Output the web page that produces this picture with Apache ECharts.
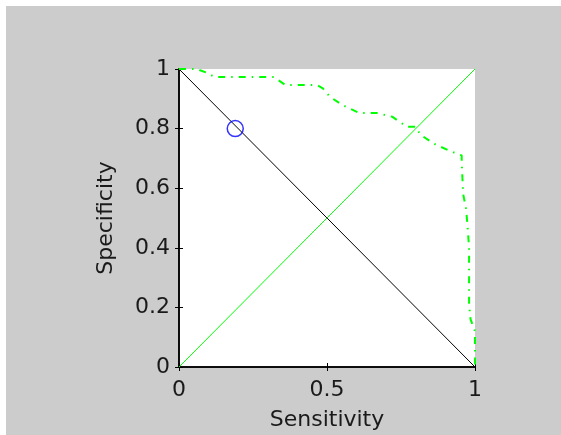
<!DOCTYPE html>
<html>
<head>
<meta charset="utf-8">
<script src="https://cdn.jsdelivr.net/npm/echarts@6/dist/echarts.min.js"></script>
<style>
html,body{margin:0;padding:0;background:#ffffff;}
#c{position:absolute;left:6px;top:6px;width:555px;height:429px;}
</style>
</head>
<body>
<div id="c"></div>
<script>
// ROC curve (sensitivity, specificity)
const rocSens = [0, 0.06, 0.095, 0.12, 0.32, 0.36, 0.466, 0.486, 0.51, 0.55, 0.61, 0.67, 0.72, 0.77, 0.80, 0.815, 0.86, 0.915, 0.955, 0.955, 0.96, 0.97, 0.975, 0.98, 0.98, 0.985, 1.0, 1.0];
const rocSpec = [1, 1, 0.987, 0.973, 0.973, 0.946, 0.946, 0.935, 0.907, 0.88, 0.852, 0.852, 0.84, 0.806, 0.806, 0.78, 0.75, 0.725, 0.71, 0.69, 0.58, 0.53, 0.47, 0.40, 0.21, 0.16, 0.12, 0];
const chanceLine = [[0, 0], [1, 1]];
const tradeLine = [[0, 1], [1, 0]];
const operatingPoint = [[0.19, 0.8]];
const xTicks = [0, 0.5, 1];
const yTicks = [0, 0.2, 0.4, 0.6, 0.8, 1];

const roc = rocSens.map((s, i) => [s, rocSpec[i]]);
const font = 'DejaVu Sans';
const txt = '#1a1a1a';
const chart = echarts.init(document.getElementById('c'));
chart.setOption({
  animation: false,
  backgroundColor: '#cccccc',
  grid: {left: 173, top: 63, width: 296, height: 298, show: true, backgroundColor: '#ffffff', borderWidth: 0,
         containLabel: false, outerBoundsMode: 'none'},
  xAxis: [{
    type: 'value', min: 0, max: 1, interval: 0.5, position: 'bottom',
    name: 'Sensitivity', nameLocation: 'middle', nameGap: 42,
    nameTextStyle: {color: txt, fontFamily: font, fontSize: 22},
    axisLine: {show: true, lineStyle: {color: '#000', width: 1.5}},
    axisTick: {show: true, inside: true, length: 4, lineStyle: {color: '#000'}},
    axisLabel: {color: txt, fontFamily: font, fontSize: 22, margin: 12},
    splitLine: {show: false}
  }, {
    type: 'value', min: 0, max: 1, interval: 0.5, position: 'top',
    axisLine: {show: true, lineStyle: {color: '#000', width: 1.5}},
    axisTick: {show: true, inside: true, length: 4, lineStyle: {color: '#000'}},
    axisLabel: {show: false}, splitLine: {show: false}
  }],
  yAxis: [{
    type: 'value', min: 0, max: 1, interval: 0.2, position: 'left',
    name: 'Specificity', nameLocation: 'middle', nameGap: 62,
    nameTextStyle: {color: txt, fontFamily: font, fontSize: 22},
    axisLine: {show: true, lineStyle: {color: '#000', width: 1.5}},
    axisTick: {show: true, inside: true, length: 4, lineStyle: {color: '#000'}},
    axisLabel: {color: txt, fontFamily: font, fontSize: 22, margin: 9},
    splitLine: {show: false}
  }, {
    type: 'value', min: 0, max: 1, interval: 0.2, position: 'right',
    axisLine: {show: true, lineStyle: {color: '#000', width: 1.5}},
    axisTick: {show: true, inside: true, length: 4, lineStyle: {color: '#000'}},
    axisLabel: {show: false}, splitLine: {show: false}
  }],
  series: [
    {type: 'line', data: tradeLine, showSymbol: false, lineStyle: {color: '#000', width: 1}, z: 2},
    {type: 'line', data: chanceLine, showSymbol: false, lineStyle: {color: '#00ff00', width: 1}, z: 2},
    {type: 'line', data: roc, showSymbol: false, lineStyle: {color: '#00ff00', width: 2, type: [7, 6, 1.5, 6]}, z: 3},
    {type: 'scatter', data: operatingPoint, symbol: 'circle', symbolSize: 16,
     itemStyle: {color: 'rgba(0,0,0,0)', borderColor: '#0000ff', borderWidth: 1.5}, z: 4}
  ]
});
</script>
</body>
</html>
